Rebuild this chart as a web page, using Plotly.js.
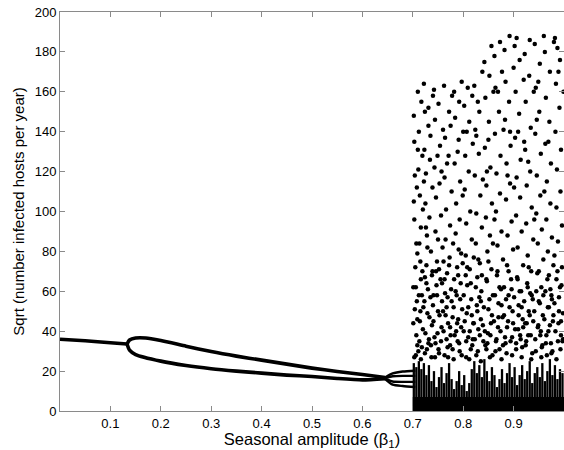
<!DOCTYPE html>
<html>
<head>
<meta charset="utf-8">
<script src="https://cdn.plot.ly/plotly-3.0.1.min.js"></script>
<style>
  html, body { margin: 0; padding: 0; background: #fff; }
  #plot { width: 564px; height: 450px; }
</style>
</head>
<body>
<div id="plot"></div>
<script>
// ── Data ──────────────────────────────────────────────────────────────────────
// single (annual) branch before the first bifurcation
const singleBranch = [[0.0, 36], [0.05, 35.2], [0.1, 34.2], [0.133, 33.6]];

// two-branch loop, 0.133 → 0.645
const upperBranch = [[0.133, 33.6], [0.138, 35.6], [0.15, 36.6], [0.17, 36.6], [0.2, 35.3],
  [0.25, 32.5], [0.3, 29.8], [0.35, 27.5], [0.4, 25.5], [0.45, 23.5], [0.5, 21.5],
  [0.55, 19.8], [0.6, 18.3], [0.645, 16.8]];
const lowerBranch = [[0.133, 33.6], [0.138, 30.5], [0.15, 28.3], [0.2, 25], [0.25, 22.8],
  [0.3, 21.2], [0.35, 20], [0.4, 19], [0.45, 18], [0.5, 17.3], [0.55, 16.3],
  [0.6, 15.6], [0.645, 16.2]];

// four branches after the period doubling, 0.645 → 0.705
const quadBranches = [
  [[0.645, 16.8], [0.66, 18.8], [0.68, 19.8], [0.705, 20.2]],
  [[0.645, 16.6], [0.66, 17.4], [0.68, 17.6], [0.705, 17.6]],
  [[0.645, 16.2], [0.66, 14.8], [0.68, 14.6], [0.705, 14.6]],
  [[0.645, 16.0], [0.66, 13.2], [0.68, 12.5], [0.705, 12.0]],
];

// solid floor of the chaotic region
const floorX = [0.70, 1.0];
const floorY = [7, 7];

// dense columns at the bottom of the chaotic region (beta, top of column)
const stripeX = [0.702, 0.707, 0.712, 0.717, 0.722, 0.727, 0.732, 0.737, 0.742, 0.747,
  0.752, 0.757, 0.762, 0.767, 0.772, 0.777, 0.782, 0.787, 0.792, 0.797,
  0.802, 0.807, 0.812, 0.817, 0.822, 0.827, 0.832, 0.837, 0.842, 0.847,
  0.852, 0.857, 0.862, 0.867, 0.872, 0.877, 0.882, 0.887, 0.892, 0.897,
  0.902, 0.907, 0.912, 0.917, 0.922, 0.927, 0.932, 0.937, 0.942, 0.947,
  0.952, 0.957, 0.962, 0.967, 0.972, 0.977, 0.982, 0.987, 0.992, 0.997];
const stripeTop = [24, 22, 25, 21, 24, 18, 23, 15, 20, 12,
  17, 22, 14, 19, 24, 16, 11, 15, 20, 13,
  18, 10, 14, 21, 25, 19, 23, 17, 26, 20,
  15, 22, 18, 12, 16, 21, 14, 19, 24, 17,
  22, 13, 18, 23, 16, 20, 25, 14, 19, 22,
  17, 24, 15, 20, 26, 18, 23, 16, 21, 19];

// scattered points of the chaotic region
const chaosPts = [
  [0.702,148],[0.704,118],[0.703,96],[0.705,72],[0.706,62],[0.708,55],[0.701,44],[0.707,38],[0.710,160],[0.712,140],
  [0.711,121],[0.714,108],[0.713,84],[0.716,66],[0.715,50],[0.718,32],[0.717,155],[0.719,128],[0.720,101],[0.709,79],
  [0.712,58],[0.706,28],[0.714,45],[0.719,70],[0.703,135],[0.716,92],[0.708,112],[0.711,30],
  [0.722,164],[0.724,150],[0.723,131],[0.726,119],[0.725,104],[0.728,88],[0.727,73],[0.730,61],[0.729,49],[0.732,36],
  [0.731,143],[0.734,126],[0.733,97],[0.736,80],[0.735,57],[0.738,43],[0.737,27],[0.740,158],[0.739,112],[0.724,67],
  [0.721,52],[0.728,31],[0.735,138],[0.726,92],[0.739,70],
  [0.742,161],[0.744,146],[0.743,122],[0.746,107],[0.745,90],[0.748,75],[0.747,63],[0.750,50],[0.749,39],[0.752,29],
  [0.751,154],[0.754,133],[0.753,114],[0.756,98],[0.755,66],[0.758,55],[0.757,42],[0.760,141],[0.759,82],[0.745,34],
  [0.752,71],[0.741,58],[0.757,120],
  [0.762,163],[0.764,137],[0.763,117],[0.766,101],[0.765,86],[0.768,69],[0.767,52],[0.770,44],[0.769,32],[0.772,150],
  [0.771,128],[0.774,93],[0.773,77],[0.776,61],[0.775,38],[0.778,158],[0.777,110],[0.780,84],[0.779,47],[0.764,59],
  [0.770,27],[0.775,143],[0.761,75],
  [0.782,160],[0.784,147],[0.783,124],[0.786,104],[0.785,89],[0.788,72],[0.787,58],[0.790,46],[0.789,35],[0.792,155],
  [0.791,136],[0.794,115],[0.793,96],[0.796,79],[0.795,64],[0.798,51],[0.797,28],[0.800,140],[0.799,108],[0.786,40],
  [0.791,81],[0.797,165],[0.782,66],
  [0.802,153],[0.804,128],[0.803,111],[0.806,94],[0.805,78],[0.808,63],[0.807,49],[0.810,37],[0.809,162],[0.812,145],
  [0.811,120],[0.814,100],[0.813,71],[0.816,56],[0.815,31],[0.818,158],[0.817,86],[0.820,44],[0.819,134],[0.805,68],
  [0.812,26],[0.801,40],
  [0.822,163],[0.824,141],[0.823,118],[0.826,99],[0.825,84],[0.828,67],[0.827,53],[0.830,41],[0.829,30],[0.832,150],
  [0.831,129],[0.834,108],[0.833,74],[0.836,60],[0.835,46],[0.838,170],[0.837,92],[0.840,35],[0.839,116],[0.826,138],
  [0.832,57],[0.821,77],
  [0.842,175],[0.844,157],[0.843,132],[0.846,113],[0.845,97],[0.848,80],[0.847,65],[0.850,51],[0.849,39],[0.852,168],
  [0.851,145],[0.854,122],[0.853,88],[0.856,71],[0.855,44],[0.858,28],[0.857,104],[0.860,160],[0.859,58],[0.844,33],
  [0.850,136],[0.856,183],
  [0.862,178],[0.864,162],[0.863,139],[0.866,119],[0.865,100],[0.868,83],[0.867,68],[0.870,54],[0.869,42],[0.872,31],
  [0.871,150],[0.874,128],[0.873,109],[0.876,90],[0.875,61],[0.878,47],[0.877,170],[0.880,141],[0.879,76],[0.866,36],
  [0.873,185],[0.862,96],
  [0.882,181],[0.884,165],[0.883,146],[0.886,124],[0.885,106],[0.888,88],[0.887,73],[0.890,58],[0.889,45],[0.892,188],
  [0.891,155],[0.894,133],[0.893,114],[0.896,95],[0.895,66],[0.898,50],[0.897,37],[0.900,172],[0.899,81],[0.886,29],
  [0.893,140],[0.881,62],
  [0.902,183],[0.904,160],[0.903,137],[0.906,117],[0.905,98],[0.908,82],[0.907,67],[0.910,53],[0.909,41],[0.912,176],
  [0.911,149],[0.914,126],[0.913,107],[0.916,90],[0.915,60],[0.918,46],[0.917,32],[0.920,166],[0.919,73],[0.906,187],
  [0.913,38],[0.901,112],
  [0.922,179],[0.924,155],[0.923,131],[0.926,113],[0.925,94],[0.928,78],[0.927,64],[0.930,50],[0.929,38],[0.932,186],
  [0.931,168],[0.934,142],[0.933,120],[0.936,102],[0.935,70],[0.938,56],[0.937,29],[0.940,160],[0.939,86],[0.926,44],
  [0.933,59],[0.921,135],
  [0.942,184],[0.944,162],[0.943,139],[0.946,118],[0.945,99],[0.948,84],[0.947,69],[0.950,55],[0.949,43],[0.952,174],
  [0.951,150],[0.954,129],[0.953,108],[0.956,91],[0.955,62],[0.958,48],[0.957,33],[0.960,188],[0.959,76],[0.946,146],
  [0.953,38],[0.941,96],
  [0.962,180],[0.964,157],[0.963,134],[0.966,115],[0.965,96],[0.968,80],[0.967,66],[0.970,52],[0.969,40],[0.972,170],
  [0.971,145],[0.974,124],[0.973,104],[0.976,87],[0.975,58],[0.978,45],[0.977,30],[0.980,185],[0.979,73],[0.966,28],
  [0.973,61],[0.961,110],
  [0.982,187],[0.984,164],[0.983,140],[0.986,121],[0.985,102],[0.988,85],[0.987,70],[0.990,57],[0.989,44],[0.992,176],
  [0.991,152],[0.994,131],[0.993,110],[0.996,93],[0.995,63],[0.998,49],[0.997,35],[0.999,160],[0.981,78],[0.987,182],
  [0.994,38],
];

// the cloud is denser below ~80
const midChaosPts = [
  [0.701,62],[0.704,51],[0.707,84],[0.709,46],[0.713,35],[0.715,75],[0.718,58],[0.720,41],[0.702,105],[0.710,131],
  [0.723,55],[0.725,39],[0.727,64],[0.729,82],[0.733,47],[0.736,33],[0.738,68],[0.740,53],[0.722,115],[0.731,152],
  [0.741,45],[0.743,37],[0.746,70],[0.748,58],[0.750,86],[0.753,48],[0.756,35],[0.758,64],[0.760,50],[0.749,128],
  [0.761,40],[0.763,66],[0.765,48],[0.767,36],[0.769,57],[0.772,73],[0.774,42],[0.777,55],[0.779,31],[0.768,124],
  [0.781,52],[0.783,38],[0.785,60],[0.788,44],[0.790,68],[0.792,34],[0.794,56],[0.796,42],[0.799,74],[0.789,130],
  [0.801,58],[0.803,45],[0.806,35],[0.808,72],[0.810,52],[0.813,40],[0.815,64],[0.817,48],[0.819,36],[0.807,140],
  [0.821,44],[0.823,36],[0.825,62],[0.828,50],[0.830,76],[0.833,38],[0.835,55],[0.837,68],[0.839,43],[0.829,155],
  [0.841,52],[0.843,40],[0.846,66],[0.848,34],[0.850,75],[0.852,56],[0.854,38],[0.857,48],[0.859,84],[0.847,120],
  [0.861,45],[0.863,58],[0.865,35],[0.868,70],[0.870,47],[0.872,62],[0.874,40],[0.876,53],[0.879,33],[0.869,160],
  [0.881,48],[0.883,37],[0.885,56],[0.887,42],[0.890,70],[0.892,52],[0.894,35],[0.896,61],[0.899,44],[0.888,118],
  [0.901,57],[0.903,41],[0.905,34],[0.908,66],[0.910,48],[0.912,60],[0.914,36],[0.916,52],[0.919,42],[0.909,140],
  [0.921,55],[0.923,44],[0.925,35],[0.928,62],[0.930,72],[0.932,48],[0.934,38],[0.936,58],[0.939,45],[0.929,125],
  [0.941,50],[0.943,36],[0.945,60],[0.948,42],[0.950,70],[0.952,54],[0.954,40],[0.956,32],[0.959,58],[0.949,165],
  [0.961,46],[0.963,60],[0.965,38],[0.968,52],[0.970,68],[0.972,43],[0.974,34],[0.976,56],[0.979,48],[0.969,135],
  [0.981,54],[0.983,40],[0.985,66],[0.988,35],[0.990,50],[0.992,62],[0.994,45],[0.996,72],[0.998,36],[0.989,170],
];

// extra points in the densest band just above the columns
const lowChaosPts = [
  [0.703,27],[0.709,33],[0.716,26],[0.724,29],[0.731,34],[0.744,27],[0.751,31],[0.763,28],[0.774,33],[0.781,26],
  [0.793,30],[0.806,27],[0.818,33],[0.826,28],[0.835,25],[0.846,31],[0.853,27],[0.864,30],[0.876,26],[0.884,34],
  [0.897,28],[0.905,31],[0.916,27],[0.924,33],[0.935,26],[0.944,30],[0.955,27],[0.964,34],[0.975,29],[0.985,26],
  [0.993,31],
];

const xTickVals = [0.1, 0.2, 0.3, 0.4, 0.5, 0.6, 0.7, 0.8, 0.9, 1.0];
const xTickText = ['0.1', '0.2', '0.3', '0.4', '0.5', '0.6', '0.7', '0.8', '0.9', '1'];
const yTickVals = [0, 20, 40, 60, 80, 100, 120, 140, 160, 180, 200];

// ── Traces ────────────────────────────────────────────────────────────────────
const FONT = 'Arial, "Liberation Sans", sans-serif';
const BRANCH_W = 3.6;

function branchTrace(pts, w) {
  return {
    type: 'scatter', mode: 'lines',
    x: pts.map(p => p[0]), y: pts.map(p => p[1]),
    line: { color: '#000', width: w || BRANCH_W, shape: 'spline', smoothing: 0.6 },
    hoverinfo: 'skip', showlegend: false,
  };
}

// columns: one segment per beta, broken up with nulls
const colX = [], colY = [];
stripeX.forEach((b, i) => { colX.push(b, b, null); colY.push(0, stripeTop[i], null); });

const allChaos = chaosPts.concat(midChaosPts, lowChaosPts);

const traces = [
  branchTrace(singleBranch),
  branchTrace(upperBranch),
  branchTrace(lowerBranch),
  ...quadBranches.map(b => branchTrace(b, 2.4)),
  {
    type: 'scatter', mode: 'lines',
    x: floorX, y: floorY, fill: 'tozeroy', fillcolor: '#000',
    line: { width: 0 }, hoverinfo: 'skip', showlegend: false,
  },
  {
    type: 'scatter', mode: 'lines',
    x: colX, y: colY,
    line: { color: '#000', width: 2.3 },
    hoverinfo: 'skip', showlegend: false,
  },
  {
    type: 'scatter', mode: 'markers',
    x: allChaos.map(p => p[0]), y: allChaos.map(p => p[1]),
    marker: { color: '#000', size: 4.5, line: { width: 0 } },
    showlegend: false,
  },
];

// ── Layout ────────────────────────────────────────────────────────────────────
const axisBase = {
  showgrid: false, zeroline: false,
  showline: true, linecolor: '#8a8a8a', linewidth: 1,
  mirror: 'ticks',
  ticks: 'inside', ticklen: 5, tickwidth: 1, tickcolor: '#8a8a8a',
  tickfont: { family: FONT, size: 13, color: '#000' },
};

const layout = {
  width: 564, height: 450,
  margin: { l: 60, r: 0, t: 12, b: 39 },
  paper_bgcolor: '#fff', plot_bgcolor: '#fff',
  showlegend: false,
  xaxis: {
    ...axisBase,
    range: [0, 1],
    automargin: true,
    tickvals: xTickVals, ticktext: xTickText,
    title: { text: 'Seasonal amplitude (β<sub>1</sub>)', font: { family: FONT, size: 16.5, color: '#000' }, standoff: 1 },
  },
  yaxis: {
    ...axisBase,
    range: [0, 200],
    tickvals: yTickVals,
    title: { text: 'Sqrt (number infected hosts per year)', font: { family: FONT, size: 15, color: '#000' }, standoff: 6 },
  },
};

Plotly.newPlot('plot', traces, layout, { staticPlot: true, displayModeBar: false });
</script>
</body>
</html>
